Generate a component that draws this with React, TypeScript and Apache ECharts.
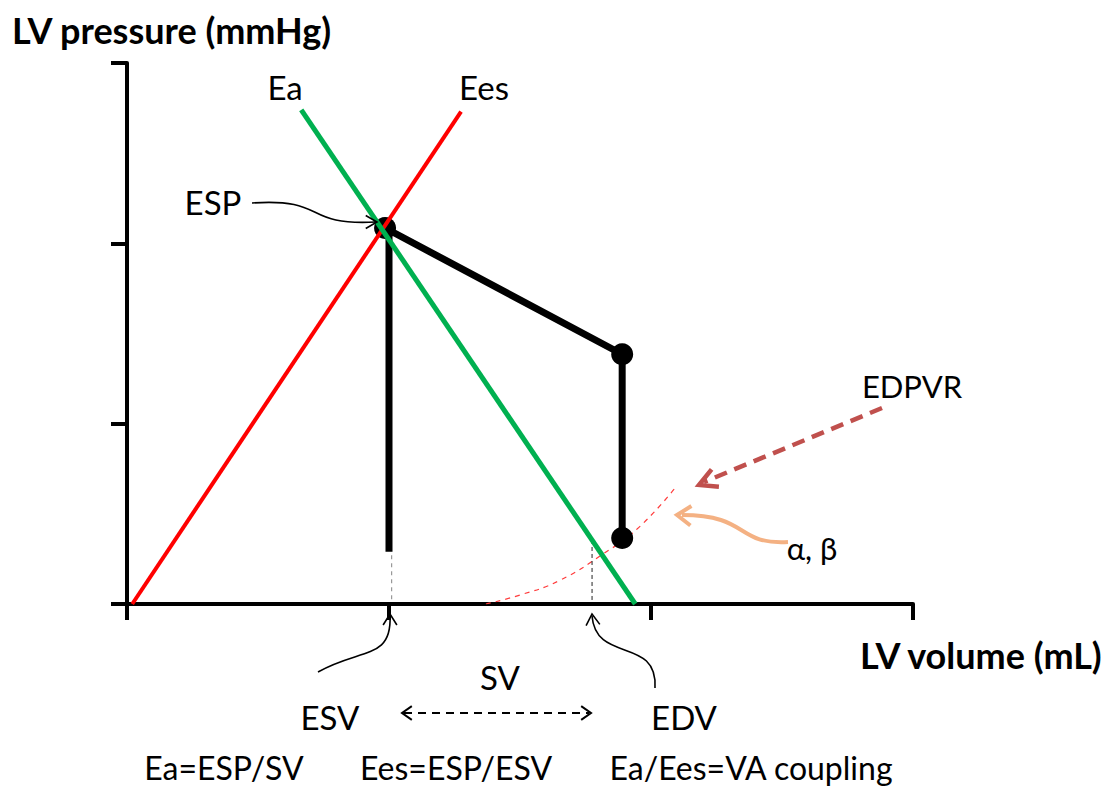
import React, { useEffect, useRef } from "react";
import * as echarts from "echarts";

// Axis extent (arbitrary units) and tick spacing
const axisMin = 0;
const axisMax = 3;
const axisStep = 1;

// Pressure–volume relations (volume, pressure)
const eesLine = [[0.02, 0], [1.275, 2.73]];
const eaLine = [[0.665, 2.74], [1.94, 0]];
const esvWall = [[1.0, 0.29], [1.0, 2.06]];
const ejectionLine = [[0.985, 2.085], [1.89, 1.385]];
const edvWall = [[1.89, 1.385], [1.89, 0.366]];
const loopCorners = [[0.985, 2.085], [1.89, 1.385], [1.89, 0.366]];
const edpvrCurve = [[1.37, 0], [1.5, 0.05], [1.65, 0.13], [1.82, 0.28], [1.95, 0.42], [2.09, 0.64]];
const esvGuide = [[1.01, 0.27], [1.01, 0.02]];
const edvGuide = [[1.775, 0.355], [1.775, 0.02]];

const FONT = "Lato, 'Open Sans', sans-serif";

function chevron(tipX: number, tipY: number, angleDeg: number, len: number, spread: number, stroke: string, lineWidth: number) {
  const a = (angleDeg * Math.PI) / 180;
  const s = (spread * Math.PI) / 180;
  const p1 = [tipX - len * Math.cos(a + s), tipY - len * Math.sin(a + s)];
  const p2 = [tipX - len * Math.cos(a - s), tipY - len * Math.sin(a - s)];
  return {
    type: "polyline",
    shape: { points: [p1, [tipX, tipY], p2] },
    style: { stroke, lineWidth, fill: null, lineJoin: "miter" },
    z: 20,
  };
}

function label(text: string, x: number, y: number, size: number, bold = false, align = "center") {
  return {
    type: "text",
    x,
    y,
    z: 30,
    style: {
      text,
      fill: "#000",
      font: `${bold ? "bold " : ""}${size}px ${FONT}`,
      align,
      verticalAlign: "middle",
    },
  };
}

function curve(x1: number, y1: number, cpx1: number, cpy1: number, cpx2: number, cpy2: number, x2: number, y2: number, stroke: string, lineWidth: number, lineDash?: number[]) {
  return {
    type: "bezierCurve",
    shape: { x1, y1, cpx1, cpy1, cpx2, cpy2, x2, y2 },
    style: { stroke, lineWidth, fill: null, lineDash },
    z: 20,
  };
}

function lineSeries(data: number[][], color: string, width: number, extra: any = {}, z = 3) {
  return {
    type: "line",
    data,
    symbol: "none",
    lineStyle: { color, width, opacity: 1, ...extra },
    z,
    silent: true,
  };
}

export default function App() {
  const ref = useRef<HTMLDivElement>(null);

  useEffect(() => {
    if (!ref.current) return;
    const chart = echarts.init(ref.current, undefined, { renderer: "svg" });

    const axisCommon = {
      type: "value",
      min: axisMin,
      max: axisMax,
      interval: axisStep,
      axisLine: { show: true, lineStyle: { color: "#000", width: 4 } },
      axisTick: { show: true, length: 16, lineStyle: { color: "#000", width: 4 } },
      axisLabel: { show: false },
      splitLine: { show: false },
    };

    chart.setOption({
      animation: false,
      backgroundColor: "#fff",
      grid: { left: 127, right: 200, top: 63, bottom: 183 },
      xAxis: { ...axisCommon },
      yAxis: { ...axisCommon },
      series: [
        { ...lineSeries(edpvrCurve, "#ff3b3b", 1.2, { type: [5, 5] }, 2), smooth: true },
        lineSeries(esvGuide, "#999", 1.2, { type: [4, 4] }, 2),
        lineSeries(edvGuide, "#222", 1, { type: [4, 3] }, 2),
        lineSeries(esvWall, "#000", 7, { cap: "butt" }, 3),
        lineSeries(ejectionLine, "#000", 7, { cap: "round" }, 3),
        lineSeries(edvWall, "#000", 7, { cap: "butt" }, 3),
        {
          type: "scatter",
          data: loopCorners,
          symbol: "circle",
          symbolSize: 22,
          itemStyle: { color: "#000", opacity: 1 },
          z: 4,
          silent: true,
        },
        lineSeries(eesLine, "#ff0000", 4, {}, 5),
        lineSeries(eaLine, "#00b050", 5, {}, 6),
      ],
      graphic: [
        label("LV pressure (mmHg)", 12, 30, 36, true, "left"),
        label("LV volume (mL)", 860, 655, 36, true, "left"),
        label("Ea", 285, 87, 33),
        label("Ees", 484, 87, 33),
        label("ESP", 213, 202, 33),
        label("EDPVR", 912, 386, 31),
        label("α, β", 812, 548, 31),
        label("SV", 500, 677, 33),
        label("ESV", 330, 717, 33),
        label("EDV", 684, 717, 33),
        label("Ea=ESP/SV", 224, 767, 32),
        label("Ees=ESP/ESV", 456, 767, 32),
        label("Ea/Ees=VA coupling", 751, 767, 32),
        // ESP pointer
        curve(252, 203, 330, 198, 300, 226, 376, 222, "#000", 1.6),
        chevron(377, 222, 0, 13, 30, "#000", 1.6),
        // ESV pointer
        curve(318, 672, 360, 648, 392, 660, 390, 616, "#000", 1.6),
        chevron(390, 614, -90, 13, 32, "#000", 1.6),
        // EDV pointer
        curve(655, 688, 658, 636, 596, 664, 592, 616, "#000", 1.6),
        chevron(592, 614, -95, 13, 32, "#000", 1.6),
        // SV double-headed dashed arrow
        {
          type: "line",
          shape: { x1: 404, y1: 713, x2: 589, y2: 713 },
          style: { stroke: "#000", lineWidth: 2, lineDash: [8, 6] },
          z: 20,
        },
        chevron(402, 713, 180, 12, 35, "#000", 2),
        chevron(591, 713, 0, 12, 35, "#000", 2),
        // EDPVR pointer
        {
          type: "line",
          shape: { x1: 882, y1: 408, x2: 704, y2: 482 },
          style: { stroke: "#c0504d", lineWidth: 4.5, lineDash: [13, 8] },
          z: 20,
        },
        chevron(699, 485, 157, 20, 28, "#c0504d", 4.5),
        // α, β pointer
        curve(788, 542, 735, 545, 750, 515, 682, 515, "#f4b183", 4),
        chevron(677, 515, 183, 17, 35, "#f4b183", 4),
      ],
    });

    return () => chart.dispose();
  }, []);

  return (
    <div
      ref={ref}
      style={{ position: "fixed", left: 0, top: 0, width: 1113, height: 787, background: "#fff" }}
    />
  );
}
